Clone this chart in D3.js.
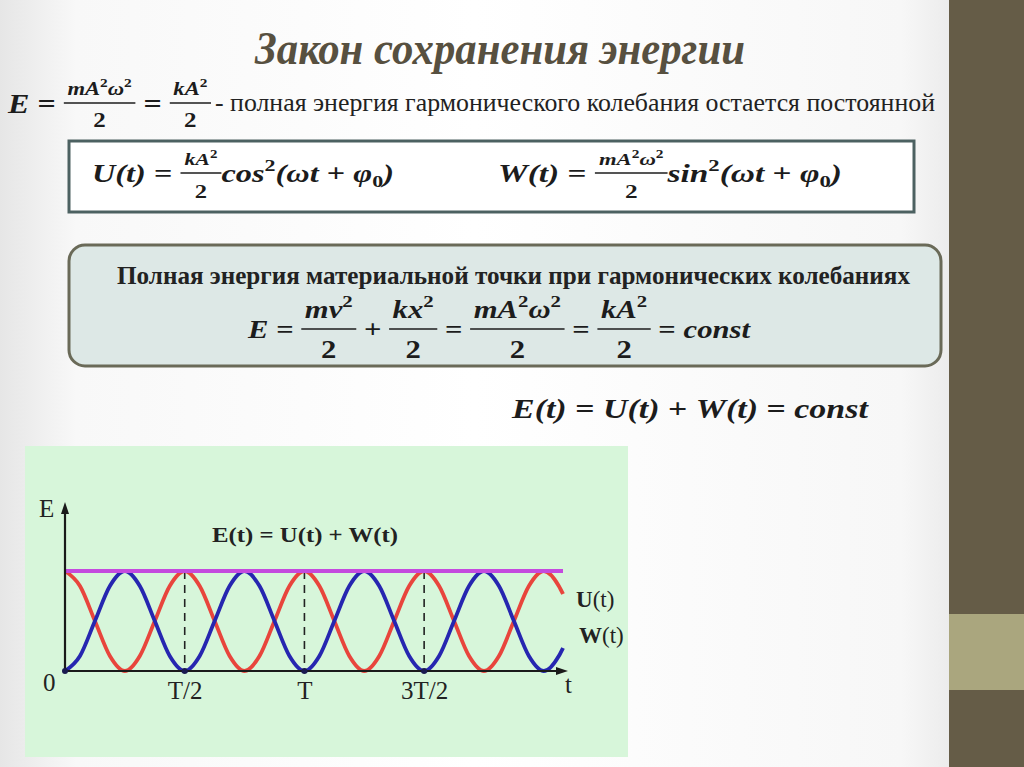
<!DOCTYPE html>
<html>
<head>
<meta charset="utf-8">
<title>energy.html</title>
<style>
body { margin: 0; background: #fff; }
svg { display: block; }
.math { font-family: "Liberation Serif", "DejaVu Serif", "Noto Serif", serif; font-weight: bold; font-style: italic; fill: #1c1c1c; white-space: pre; }
.plain { font-family: "Liberation Serif", "DejaVu Serif", "Noto Serif", serif; fill: #222; white-space: pre; }
</style>
</head>
<body>
<svg width="1024" height="767"></svg>
<script src="https://cdn.jsdelivr.net/npm/d3@7/dist/d3.min.js"></script>
<script>
// values: t in units of T, energy as share of E
var tValues = [0, 0.0625, 0.125, 0.1875, 0.25, 0.3125, 0.375, 0.4375,
               0.5, 0.5625, 0.625, 0.6875, 0.75, 0.8125, 0.875, 0.9375,
               1, 1.0625, 1.125, 1.1875, 1.25, 1.3125, 1.375, 1.4375,
               1.5, 1.5625, 1.625, 1.6875, 1.75, 1.8125, 1.875, 1.9375,
               2, 2.0625, 2.08];
var uValues = [1, 0.85, 0.5, 0.15, 0, 0.15, 0.5, 0.85,
               1, 0.85, 0.5, 0.15, 0, 0.15, 0.5, 0.85,
               1, 0.85, 0.5, 0.15, 0, 0.15, 0.5, 0.85,
               1, 0.85, 0.5, 0.15, 0, 0.15, 0.5, 0.85,
               1, 0.85, 0.77];
var wValues = [0, 0.15, 0.5, 0.85, 1, 0.85, 0.5, 0.15,
               0, 0.15, 0.5, 0.85, 1, 0.85, 0.5, 0.15,
               0, 0.15, 0.5, 0.85, 1, 0.85, 0.5, 0.15,
               0, 0.15, 0.5, 0.85, 1, 0.85, 0.5, 0.15,
               0, 0.15, 0.23];
var eValues = [1, 1];          // E(t) = const, at t = 0 and at the end
var eTimes = [0, 2.08];
var tickValues = [0.5, 1, 1.5];
var tickLabels = ["T/2", "T", "3T/2"];
var seriesNames = ["U", "W"];

var serif = '"Liberation Serif", "DejaVu Serif", "Noto Serif", serif';
var svg = d3.select("svg");

// page background and right band
var grad = svg.append("defs").append("linearGradient").attr("id", "bg");
[[0, "#e6e6e6"], [0.08, "#f8f8f8"], [0.5, "#ffffff"], [0.95, "#f7f7f7"], [1, "#ececec"]]
  .forEach(function(s) { grad.append("stop").attr("offset", s[0]).attr("stop-color", s[1]); });
svg.append("rect").attr("width", 949).attr("height", 767).attr("fill", "url(#bg)");
svg.append("rect").attr("x", 949).attr("width", 75).attr("height", 767).attr("fill", "#655c47");
svg.append("rect").attr("x", 949).attr("y", 614).attr("width", 75).attr("height", 76).attr("fill", "#aaa67e");

// title
svg.append("text").attr("x", 255).attr("y", 64)
  .attr("textLength", 490).attr("lengthAdjust", "spacingAndGlyphs")
  .style("font-family", serif).style("font-style", "italic").style("font-weight", "bold")
  .style("font-size", "47px").attr("fill", "#575040")
  .text("Закон сохранения энергии");

// --- math helpers ---
function mathText(g, x, base, parts, size) {
  var t = g.append("text").attr("class", "math").attr("x", x).attr("y", base).style("font-size", size + "px");
  var shift = 0;
  parts.forEach(function(p) {
    var k = p[1] || "";
    var target = k === "^" ? -size * 0.42 : (k === "_" ? size * 0.22 : 0);
    var s = t.append("tspan").text(p[0]).attr("dy", target - shift);
    shift = target;
    if (k === "^" || k === "_") s.style("font-size", (size * 0.68) + "px").style("font-style", "normal");
    if (k === "u") s.style("font-style", "normal");
  });
  return { t: t, w: t.node().getComputedTextLength() };
}

function formula(x0, x1, spec, items) {
  var g = svg.append("g");
  var cx = 0;
  items.forEach(function(it) {
    if (typeof it === "number") { cx += it; return; }
    if (it.num) {
      var n = mathText(g, 0, spec.numBase, it.num, spec.fsize);
      var d = mathText(g, 0, spec.denBase, it.den, spec.dsize || spec.fsize);
      var w = Math.max(n.w, d.w) + 6;
      n.t.attr("x", cx + (w - n.w) / 2);
      d.t.attr("x", cx + (w - d.w) / 2);
      g.append("line").attr("x1", cx).attr("x2", cx + w)
        .attr("y1", spec.lineY).attr("y2", spec.lineY)
        .attr("stroke", "#1c1c1c").attr("stroke-width", 1.6);
      cx += w;
    } else {
      cx += mathText(g, cx, spec.base, it, spec.size).w;
    }
  });
  g.attr("transform", "translate(" + x0 + ",0) scale(" + ((x1 - x0) / cx) + ",1)");
}

var eq = [" = ", "u"], plus = [" + ", "u"], two = [["2", "u"]];
var sq = ["2", "^"];

// line 1
formula(8, 211, { base: 113, lineY: 103, numBase: 95, denBase: 127, size: 27, fsize: 19, dsize: 21 }, [
  [["E"], eq], { num: [["mA"], sq, ["ω"], sq], den: two }, [eq], { num: [["kA"], sq], den: two }
]);
svg.append("text").attr("class", "plain").attr("x", 215).attr("y", 111)
  .attr("textLength", 720).attr("lengthAdjust", "spacingAndGlyphs")
  .style("font-size", "25px")
  .text("- полная энергия гармонического колебания остается постоянной");

// box 1
svg.append("rect").attr("x", 69).attr("y", 141).attr("width", 845).attr("height", 71)
  .attr("fill", "#fff").attr("stroke", "#4c6161").attr("stroke-width", 3);
var spec1 = { base: 182, lineY: 173, numBase: 165, denBase: 198, size: 25, fsize: 17, dsize: 19 };
formula(92, 394, spec1, [
  [["U(t)"], eq], { num: [["kA"], sq], den: two }, [["cos"], sq, ["(ωt"], plus, ["φ"], ["0", "_"], [")"]]
]);
formula(498, 842, spec1, [
  [["W(t)"], eq], { num: [["mA"], sq, ["ω"], sq], den: two }, [["sin"], sq, ["(ωt"], plus, ["φ"], ["0", "_"], [")"]]
]);

// box 2
svg.append("rect").attr("x", 69).attr("y", 245).attr("width", 872).attr("height", 121).attr("rx", 16)
  .attr("fill", "#dde8e6").attr("stroke", "#6a6a58").attr("stroke-width", 3);
svg.append("text").attr("class", "plain").attr("x", 117).attr("y", 284)
  .attr("textLength", 793).attr("lengthAdjust", "spacingAndGlyphs")
  .style("font-size", "25px").style("font-weight", "bold")
  .text("Полная энергия материальной точки при гармонических колебаниях");
formula(248, 750, { base: 338, lineY: 329, numBase: 318, denBase: 358, size: 26, fsize: 26 }, [
  [["E"], eq], { num: [["mv"], sq], den: two }, [plus], { num: [["kx"], sq], den: two }, [eq],
  { num: [["mA"], sq, ["ω"], sq], den: two }, [eq], { num: [["kA"], sq], den: two }, [eq, ["const"]]
]);

formula(512, 868, { base: 418, lineY: 410, numBase: 400, denBase: 430, size: 27, fsize: 20 }, [
  [["E(t)"], eq, ["U(t)"], plus, ["W(t)"], eq, ["const"]]
]);

// --- the chart ---
var panel = svg.append("g");
panel.append("rect").attr("x", 25).attr("y", 446).attr("width", 603).attr("height", 311).attr("fill", "#d7f6da");

var x = d3.scaleLinear().domain([0, 2.08]).range([65, 563]);
var y = d3.scaleLinear().domain([0, 1]).range([671, 571]);

var line = d3.line().x(function(d) { return x(d[0]); }).y(function(d) { return y(d[1]); })
  .curve(d3.curveMonotoneX);

// dashed guides
panel.selectAll(".guide").data(tickValues).enter().append("line")
  .attr("x1", function(d) { return x(d); }).attr("x2", function(d) { return x(d); })
  .attr("y1", y(1)).attr("y2", y(0))
  .attr("stroke", "#222").attr("stroke-width", 1.6).attr("stroke-dasharray", "8,6");

var colors = { U: "#e8453c", W: "#2626b0" };
var seriesData = { U: uValues, W: wValues };
seriesNames.forEach(function(k) {
  panel.append("path")
    .datum(tValues.map(function(t, i) { return [t, seriesData[k][i]]; }))
    .attr("d", line).attr("fill", "none")
    .attr("stroke", colors[k]).attr("stroke-width", 3.8);
});

panel.append("path")
  .datum(eTimes.map(function(t, i) { return [t, eValues[i]]; }))
  .attr("d", d3.line().x(function(d) { return x(d[0]); }).y(function(d) { return y(d[1]); }))
  .attr("stroke", "#c44ade").attr("stroke-width", 4).attr("fill", "none");

// axes
var xAxis = d3.axisBottom(x).tickValues(tickValues)
  .tickFormat(function(d, i) { return tickLabels[i]; })
  .tickSize(0).tickPadding(10);
var ax = panel.append("g").attr("transform", "translate(0," + y(0) + ")").call(xAxis);
ax.select(".domain").remove();
ax.selectAll("text").style("font-family", serif).style("font-size", "25px").attr("fill", "#222");

panel.append("line").attr("x1", x(0)).attr("x2", 562).attr("y1", y(0)).attr("y2", y(0))
  .attr("stroke", "#1a1a1a").attr("stroke-width", 2.2);
panel.append("path").attr("d", "M568," + y(0) + "L556," + (y(0) - 4) + "L556," + (y(0) + 4) + "Z").attr("fill", "#1a1a1a");
panel.append("line").attr("x1", x(0)).attr("x2", x(0)).attr("y1", y(0)).attr("y2", 512)
  .attr("stroke", "#1a1a1a").attr("stroke-width", 2.2);
panel.append("path").attr("d", "M" + x(0) + ",502L" + (x(0) - 4) + ",514L" + (x(0) + 4) + ",514Z").attr("fill", "#1a1a1a");

panel.selectAll(".dot").data([0].concat(tickValues)).enter().append("circle")
  .attr("cx", function(d) { return x(d); }).attr("cy", y(0)).attr("r", 3).attr("fill", "#1a1a50");

function label(xp, yp, txt, size, bold) {
  return panel.append("text").attr("class", "plain").attr("x", xp).attr("y", yp)
    .style("font-size", size + "px").style("font-weight", bold ? "bold" : "normal").text(txt);
}
label(39, 517, "E", 25);
label(43, 691, "0", 25);
label(565, 693, "t", 25);
label(212, 542, "E(t) = U(t) + W(t)", 22, true).attr("textLength", 186).attr("lengthAdjust", "spacingAndGlyphs");
var ul = label(576, 607, "", 23);
ul.append("tspan").style("font-weight", "bold").text("U");
ul.append("tspan").text("(t)");
var wl = label(579, 643, "", 23);
wl.append("tspan").style("font-weight", "bold").text("W");
wl.append("tspan").text("(t)");
</script>
</body>
</html>
